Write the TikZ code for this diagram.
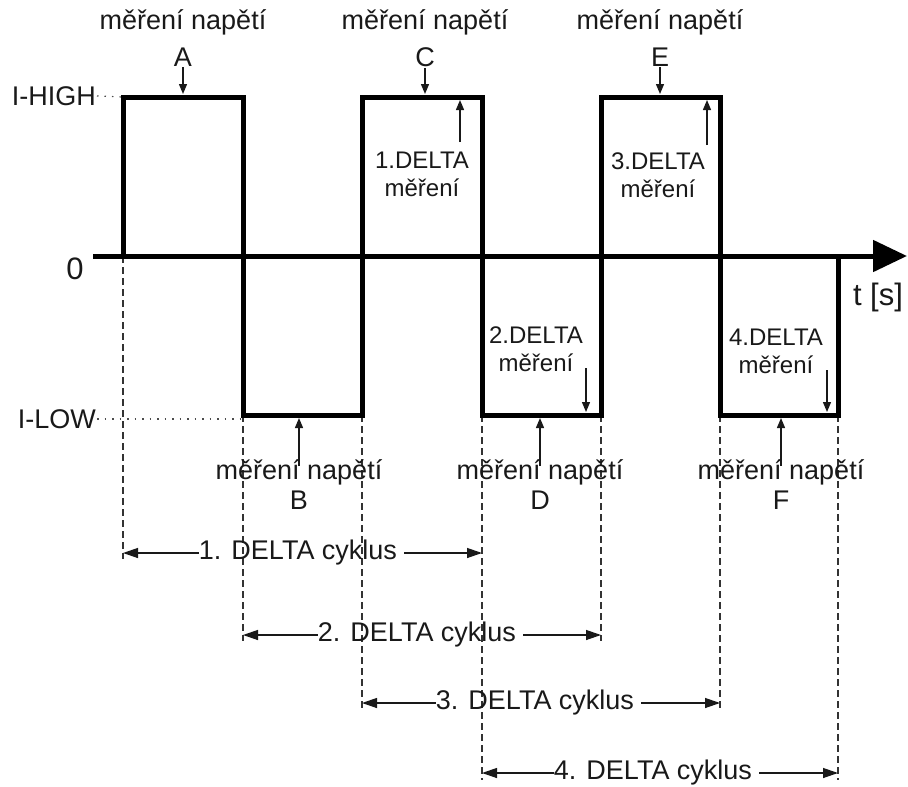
\documentclass[tikz,border=0pt]{standalone}
\usepackage{fontspec}
\setmainfont{Liberation Sans}
\usetikzlibrary{arrows.meta, positioning}
\tikzset{
  signalline/.style = {
    line width=5pt, 
    draw=black, 
    line join=miter
  },
  axisline/.style = {
    line width=5pt, 
    draw=black, 
    -{Triangle[length=34pt, width=31pt]}
  },
  levelline/.style = {
    line width=1.2pt, 
    draw=black!70, 
    dash pattern=on 1.5pt off 6pt
  },
  guideline/.style = {
    line width=1.2pt, 
    draw=black!80, 
    dash pattern=on 7pt off 4pt
  },
  measarrow/.style = {
    -{Triangle[length=10pt, width=8pt]}, 
    line width=1.3pt, 
    draw=black!90
  },
  cyclearrow/.style = {
    -{Triangle[length=15pt, width=10pt]}, 
    line width=1.3pt, 
    draw=black!90
  },
  bigtext/.style = {
    font=\fontsize{27}{32}\selectfont, 
    text=black!90, 
    inner sep=1pt
  },
  axistext/.style = {
    font=\fontsize{31}{36}\selectfont, 
    text=black!90, 
    inner sep=1pt
  },
  deltatext/.style = {
    font=\fontsize{24}{28}\selectfont, 
    text=black!90, 
    align=center, 
    inner sep=1pt
  }
}

\begin{document}
\begin{tikzpicture}[x=1pt, y=-1pt]
  \useasboundingbox (0,0) rectangle (908,787);

  % Dashed guide lines below the edges
  \foreach \x/\ya/\yb in {123/256/559, 243/415/641, 362/415/710, 482/415/780, 601/415/641, 720/415/710, 838/415/780} {
    \draw[guideline] (\x,\ya) -- (\x,\yb);
  }

  % Time axis
  \coordinate (axstart) at (93,256);
  \coordinate (axend) at (907,256);
  \draw[axisline] (axstart) -- (axend);
  \node[axistext] at (75,269) (zero) {0};
  \node[axistext] at (878,297) (tlabel) {t [s]};

  % Current levels
  \node[bigtext, anchor=east] at (97,96) (ihigh) {I-HIGH};
  \coordinate (hstart) at (123,97);
  \draw[levelline] (ihigh.east) -- (hstart);
  \node[bigtext, anchor=east] at (97,419) (ilow) {I-LOW};
  \coordinate (lstart) at (243,419);
  \draw[levelline] (ilow.east) -- (lstart);

  % Square wave
  \draw[signalline] (123,256) -- (123,97) -- (243,97) -- (243,415) -- (362,415) -- (362,97) -- (482,97) -- (482,415)
    -- (601,415) -- (601,97) -- (720,97) -- (720,415) -- (838,415) -- (838,256);

  % Voltage measurements on I-HIGH
  \foreach \n/\x in {A/183, C/425, E/660} {
    \node[bigtext] at (\x,22) (mt\n) {měření napětí};
    \node[bigtext] at (\x,57) (ml\n) {\n};
    \coordinate (mp\n) at (\x,94);
    \draw[measarrow] (ml\n) -- (mp\n);
  }

  % Voltage measurements on I-LOW
  \foreach \n/\x in {B/299, D/540, F/781} {
    \node[bigtext] at (\x,472) (mt\n) {měření napětí};
    \node[bigtext] at (\x,500) (ml\n) {\n};
    \coordinate (mp\n) at (\x,418);
    \draw[measarrow, shorten <=-8pt] (mt\n) -- (mp\n);
  }

  % DELTA measurements
  \foreach \i/\xc/\yc/\xa/\ya/\yb in {1/422/174/460/142/100, 3/658/175/707/145/100, 2/536/349/586/368/412, 4/776/351/827/370/412} {
    \node[deltatext] at (\xc,\yc) (dm\i) {\i.DELTA\\měření};
    \coordinate (dt\i) at (\xa,\ya);
    \coordinate (dh\i) at (\xa,\yb);
    \draw[measarrow] (dt\i) -- (dh\i);
  }

  % DELTA cycles
  \foreach \i/\xl/\xr/\y/\xc in {1/123/482/553/298, 2/243/601/635/417, 3/362/720/703/535, 4/482/838/773/653} {
    \coordinate (cl\i) at (\xl,\y);
    \coordinate (cr\i) at (\xr,\y);
    \node[bigtext, inner sep=0pt] at (\xc,\y) (cyc\i) {\i. DELTA cyklus};
    \draw[cyclearrow] (cyc\i.west) -- (cl\i);
    \draw[cyclearrow, shorten <=7pt] (cyc\i.east) -- (cr\i);
  }
\end{tikzpicture}
\end{document}
